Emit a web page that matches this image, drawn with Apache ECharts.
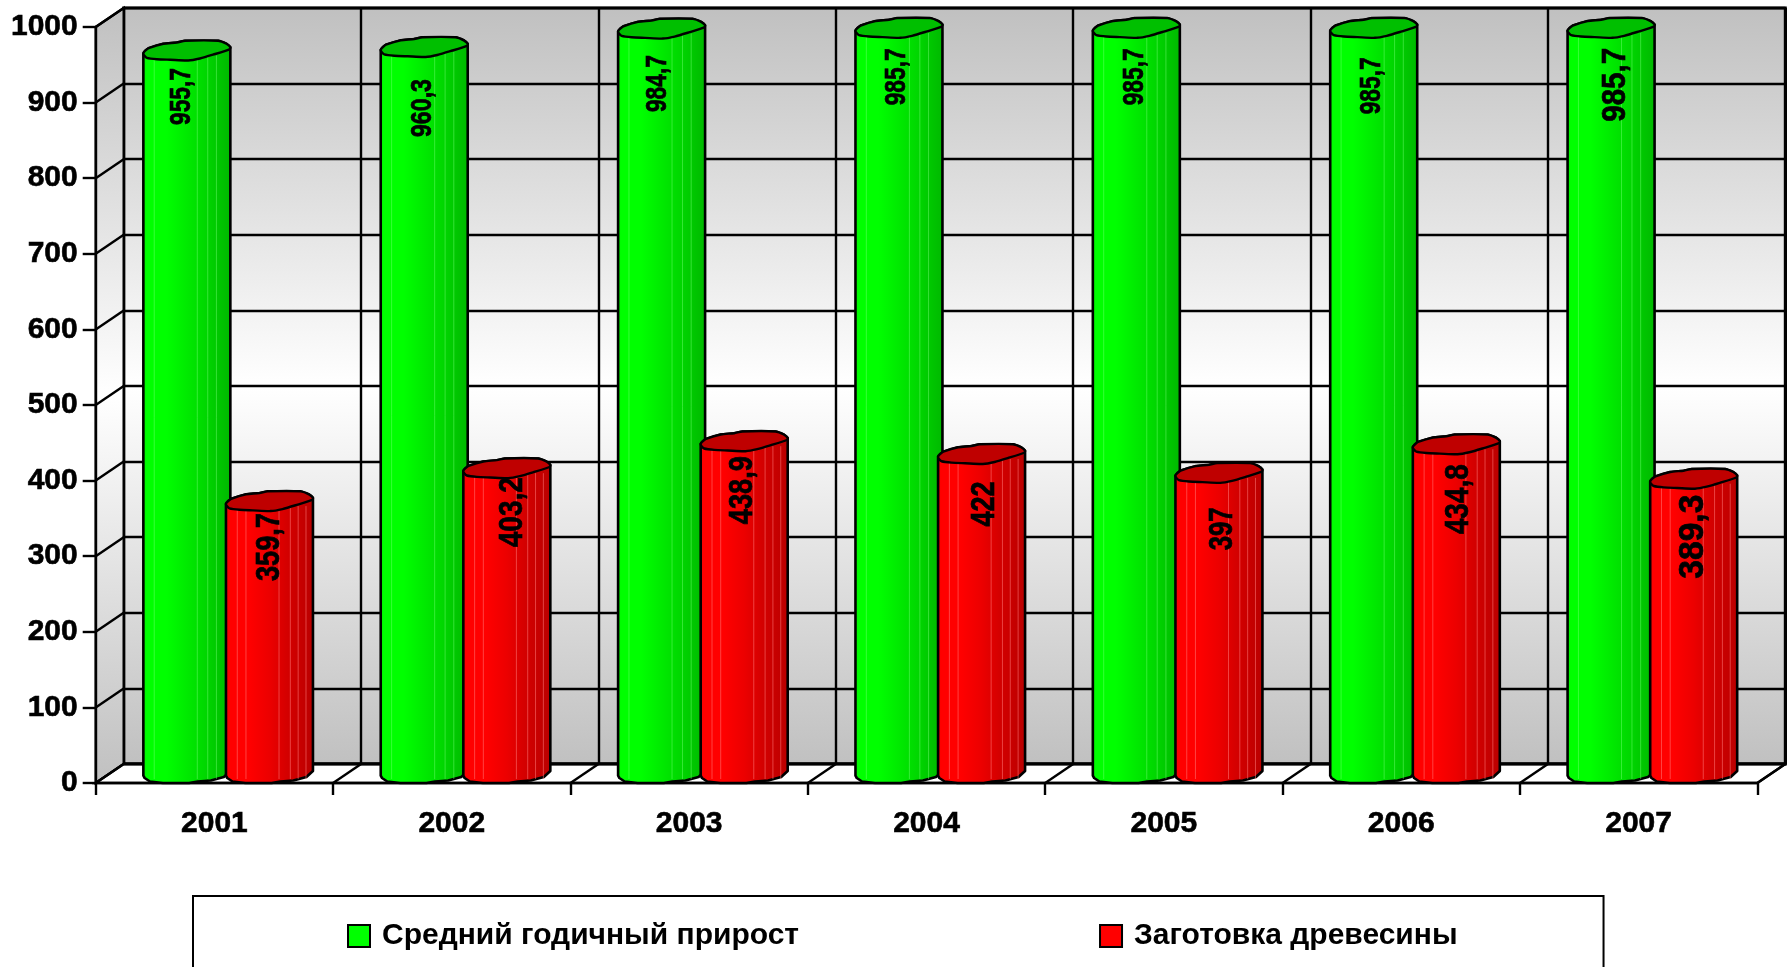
<!DOCTYPE html>
<html><head><meta charset="utf-8">
<style>html,body{margin:0;padding:0;background:#fff}#c{width:1787px;height:967px}</style>
<script src="https://cdn.jsdelivr.net/npm/echarts@6/dist/echarts.min.js"></script>
</head><body><div id="c"></div>
<script>
// ---- data ----
const years = ['2001','2002','2003','2004','2005','2006','2007'];
const growth = [955.7,960.3,984.7,985.7,985.7,985.7,985.7];
const harvest = [359.7,403.2,438.9,422,397,434.8,389.3];
const growthName = 'Средний годичный прирост';
const harvestName = 'Заготовка древесины';
const yTicks = [0,100,200,300,400,500,600,700,800,900,1000];

// ---- label placement (style only): [dx, dy from cap centre, length px, font size]
const growthLabelStyle = [[-5,46,57,30],[-1,61,58,30],[-4,55,57,30],[-2,49,57,30],[-1.5,49,57,30],[-2,58,57,30],[5,57,74,33]];
const harvestLabelStyle = [[0,46,68,33],[6,44,70,33],[-1,49,68,33],[3,50,45,33],[4,56,43,33],[2,55,70,34],[0,58,84,35]];

// ---- geometry / look ----
const DX = 28, DY = -19, capH = 10;
const capOutline = [[-1,.27],[-.95,0],[-.88,-.23],[-.54,-.67],[-.23,-.8],[-.04,-.97],[.72,-.97],[.91,-.67],[1,-.33],
  [.98,-.12],[.6,.42],[.3,.8],[.03,1],[-.38,.93],[-.69,.87],[-.92,.73],[-.98,.5]];
const baseArc = [[-1,.27],[-.97,.5],[-.85,.85],[-.55,1],[.05,1],[.25,.85],[.55,.75],[.85,.4],[1,-.2]];
const W = 87/2;

function bodyGrad(stops){
  return new echarts.graphic.LinearGradient(0,0,1,0,stops.map(s=>({offset:s[0],color:s[1]})));
}
const looks = {
  g:{cap:'#00bf00',grad:bodyGrad([[0,'#00f000'],[.05,'#00ff00'],[.27,'#00ff00'],[.5,'#00ea00'],[.7,'#00d800'],[.88,'#00c400'],[1,'#00b800']]),
     stripe:'rgba(120,255,120,.45)',stripes:[.125,.62,.74,.84]},
  r:{cap:'#bf0000',grad:bodyGrad([[0,'#f00000'],[.05,'#ff0000'],[.27,'#ff0000'],[.5,'#ec0000'],[.7,'#d40000'],[.88,'#c40000'],[1,'#b80000']]),
     stripe:'rgba(255,120,120,.55)',stripes:[.13,.23,.61,.74,.83,.92]}
};

function barSeries(name, values, offs, key, labelStyle){
  const look = looks[key];
  return {
    type:'custom', name, xAxisIndex:0, yAxisIndex:0, z:5, clip:false, silent:true,
    data: values.map((v,i)=>[i,v]),
    itemStyle:{color:key==='g'?'#00ff00':'#ff0000'},
    encode:{x:0,y:1},
    renderItem(params, api){
      const i = api.value(0), v = api.value(1);
      const band = api.size([1,0])[0];
      const top = api.coord([i,v]), bot = api.coord([i,0]);
      const cx = top[0] + offs*band;
      const ty = top[1] - capH, by = bot[1] - capH;
      const cap = capOutline.map(p=>[cx+p[0]*W, ty+p[1]*capH]);
      const upper = capOutline.slice(0,9).map(p=>[cx+p[0]*W, ty+p[1]*capH]);
      const lower = baseArc.map(p=>[cx+p[0]*W, by+p[1]*capH]);
      const body = upper.concat(lower.slice().reverse());
      const kids = [{type:'polygon',shape:{points:body},style:{fill:look.grad,stroke:'#000',lineWidth:2.6,lineJoin:'round'}}];
      look.stripes.forEach(f=>{
        const x = cx-W+f*2*W;
        kids.push({type:'line',shape:{x1:x,y1:ty+capH*.5,x2:x,y2:by+capH*.6},style:{stroke:look.stripe,lineWidth:1}});
      });
      kids.push({type:'polygon',shape:{points:cap,smooth:0.25},style:{fill:look.cap,stroke:'#000',lineWidth:2.4,lineJoin:'round'}});
      const ls = labelStyle[i];
      const txt = String(v).replace('.',',');
      let em = 0; for(const ch of txt) em += ch===','?0.278:0.556;
      kids.push({type:'text',x:cx+ls[0],y:ty+ls[1],rotation:Math.PI/2,scaleX:ls[2]/(em*ls[3]),scaleY:1,
        style:{text:txt,fill:'#000',stroke:'#000',lineWidth:0.7,font:'bold '+ls[3]+'px "Liberation Sans", Arial, sans-serif',align:'center',verticalAlign:'middle'}});
      return {type:'group',children:kids};
    }
  };
}

const wallGrad = new echarts.graphic.LinearGradient(0,0,0,1,[{offset:0,color:'#c0c0c0'},{offset:.5,color:'#ffffff'},{offset:1,color:'#c0c0c0'}]);

const frameSeries = {
  type:'custom', xAxisIndex:0, yAxisIndex:0, z:1, silent:true, clip:false,
  data:[[0,0]], encode:{x:0,y:1},
  renderItem(params, api){
    const band = api.size([1,0])[0];
    const o = api.coord([0,0]), t = api.coord([0,1000]);
    const x0 = o[0]-band/2, yb = o[1], yt = t[1];
    const x1 = x0 + band*years.length;
    const kids = [
      {type:'polygon',shape:{points:[[x0,yb],[x0+DX,yb+DY],[x0+DX,yt+DY],[x0,yt]]},style:{fill:wallGrad,stroke:'#000',lineWidth:2.4}},
      {type:'polygon',shape:{points:[[x0,yb],[x0+DX,yb+DY],[x1+DX,yb+DY],[x1,yb]]},style:{fill:'#fff',stroke:'#000',lineWidth:2.4}}
    ];
    yTicks.forEach(v=>{
      const y = api.coord([0,v])[1];
      kids.push({type:'line',shape:{x1:x0,y1:y,x2:x0+DX,y2:y+DY},style:{stroke:'#000',lineWidth:2.4}});
    });
    years.forEach((_,k)=>{
      const x = x0+band*(k+1);
      kids.push({type:'line',shape:{x1:x,y1:yb,x2:x+DX,y2:yb+DY},style:{stroke:'#000',lineWidth:2.4}});
    });
    kids.push({type:'line',shape:{x1:x0+DX,y1:yb+DY,x2:x1+DX,y2:yb+DY},style:{stroke:'#000',lineWidth:3}});
    return {type:'group',children:kids};
  }
};

const tickFont = {fontFamily:'"Liberation Sans", Arial, sans-serif',fontWeight:'bold',color:'#000',textBorderColor:'#000',textBorderWidth:0.6};
const blackLine = {lineStyle:{color:'#000',width:2.4}};

const option = {
  animation:false,
  backgroundColor:'#fff',
  grid:[
    {left:95.7,top:27,width:1661.6,height:756,containLabel:false},
    {left:123.7,top:8,width:1661.6,height:756,show:true,backgroundColor:wallGrad,borderColor:'#000',borderWidth:3,z:0}
  ],
  xAxis:[
    {type:'category',gridIndex:0,data:years,z:3,
     axisLine:{show:true,...blackLine},axisTick:{show:true,length:12,...blackLine},
     axisLabel:{...tickFont,fontSize:30,margin:26},splitLine:{show:false}},
    {type:'category',gridIndex:1,data:years,axisLine:{show:false},axisTick:{show:false},axisLabel:{show:false},
     splitLine:{show:true,interval:0,...blackLine}}
  ],
  yAxis:[
    {type:'value',gridIndex:0,min:0,max:1000,interval:100,z:3,
     axisLine:{show:true,...blackLine},axisTick:{show:true,length:13,...blackLine},
     axisLabel:{...tickFont,fontSize:30,margin:18,padding:[0,0,3,0],formatter:v=>String(v)},splitLine:{show:false}},
    {type:'value',gridIndex:1,min:0,max:1000,interval:100,axisLine:{show:false},axisTick:{show:false},axisLabel:{show:false},
     splitLine:{show:true,...blackLine}}
  ],
  legend:{
    left:193, top:896, orient:'horizontal', icon:'rect', itemWidth:22, itemHeight:22,
    itemGap:300, padding:[25,146,60,154], borderColor:'#000', borderWidth:2, backgroundColor:'#fff',
    itemStyle:{borderColor:'#000',borderWidth:2},
    textStyle:{fontFamily:'"Liberation Sans", Arial, sans-serif',fontWeight:'bold',fontSize:30,color:'#000',padding:[0,0,0,7]},
    data:[{name:growthName,itemStyle:{color:'#00ff00'}},{name:harvestName,itemStyle:{color:'#ff0000'}}]
  },
  series:[
    frameSeries,
    barSeries(growthName,growth,-0.116,'g',growthLabelStyle),
    barSeries(harvestName,harvest,0.232,'r',harvestLabelStyle)
  ]
};
const chart = echarts.init(document.getElementById('c'),null,{renderer:'canvas',width:1787,height:967});
chart.setOption(option);
</script></body></html>
